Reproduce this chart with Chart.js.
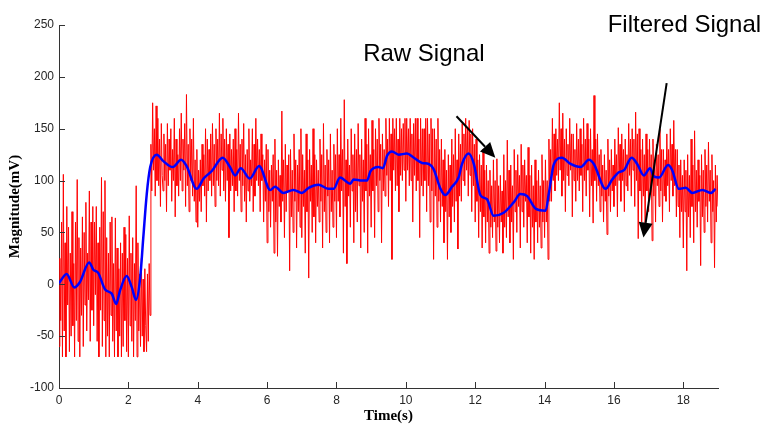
<!DOCTYPE html>
<html>
<head>
<meta charset="utf-8">
<title>Raw vs filtered signal</title>
<script src="https://cdn.jsdelivr.net/npm/chart.js@4.4.1/dist/chart.umd.min.js"></script>
<style>
  html, body { margin: 0; padding: 0; background: #fff; }
  canvas { display: block; }
</style>
</head>
<body>
<canvas id="myChart" width="765" height="425"></canvas>
<script>
// raw signal, one sample every 0.025 s (two rows per second)
const rawStep = 0.025;
const rawValues = [
  -60, 25, -35, 60, -70, 106, -45, 40, -70, 75, -20, 55, -65, 30, -50, 70, -40, 20, -70, 60,
  -35, 101, -55, 45, -70, 35, -30, 65, -60, 50, -20, 79, -45, 30, -15, 90, -55, 60, -25, 75,
  -40, 60, -10, 75, -55, 40, -70, 55, -25, 103, -60, 70, -35, 100, -70, 45, -50, 30, -70, 60,
  -30, 65, -55, 20, -70, 64, -45, 35, -70, 15, -50, 40, -70, 30, -60, 55, -35, 48, -65, 25,
  -70, 66, -40, 30, -55, 45, -70, 20, -35, 95, -70, 40, -45, 10, -60, 25, -50, 5, -65, 15,
  -40, -65, 10, -55, 20, -30, 135, 90, 175, 110, 150, 85, 172, 100, 160, 95, 140, 75, 155, 105,
  90, 145, 100, 135, 70, 155, 95, 140, 110, 150, 80, 130, 100, 160, 65, 140, 95, 125, 85, 150,
  100, 165, 90, 140, 110, 155, 75, 183, 95, 135, 70, 150, 100, 140, 85, 160, 80, 120, 60, 130,
  55, 110, 80, 120, 70, 135, 95, 125, 85, 150, 60, 140, 90, 130, 100, 145, 85, 155, 95, 135,
  75, 150, 100, 140, 95, 165, 85, 145, 110, 160, 90, 140, 80, 150, 100, 135, 45, 145, 90, 130,
  95, 140, 70, 150, 90, 130, 85, 165, 100, 135, 70, 140, 95, 155, 80, 125, 60, 130, 90, 150,
  80, 120, 95, 150, 70, 135, 85, 160, 100, 140, 95, 130, 70, 145, 100, 125, 60, 120, 80, 135,
  40, 130, 70, 110, 55, 115, 80, 125, 30, 140, 60, 110, 27, 120, 75, 105, 60, 167, 80, 120,
  45, 135, 70, 115, 90, 125, 13, 130, 65, 110, 50, 145, 80, 120, 35, 115, 70, 130, 55, 150,
  45, 125, 75, 110, 30, 145, 70, 120, 6, 130, 80, 115, 50, 150, 65, 125, 40, 120, 75, 110,
  60, 140, 80, 125, 35, 155, 70, 115, 50, 130, 85, 120, 40, 145, 70, 110, 55, 135, 80, 125,
  45, 150, 80, 125, 65, 160, 90, 130, 30, 178, 75, 120, 20, 140, 85, 115, 55, 150, 90, 125,
  40, 145, 70, 130, 60, 155, 95, 125, 35, 140, 80, 120, 50, 160, 90, 135, 30, 150, 85, 125,
  55, 158, 90, 130, 45, 150, 95, 140, 70, 160, 100, 135, 40, 145, 90, 130, 85, 160, 105, 140,
  75, 160, 100, 145, 24, 160, 110, 150, 90, 160, 95, 140, 70, 160, 105, 150, 100, 155, 110, 160,
  80, 160, 110, 150, 95, 160, 100, 145, 60, 155, 105, 160, 90, 160, 100, 140, 45, 160, 95, 150,
  85, 150, 100, 160, 70, 160, 95, 145, 60, 160, 90, 150, 24, 150, 85, 140, 55, 160, 80, 130,
  60, 140, 75, 120, 40, 130, 70, 110, 24, 125, 65, 115, 50, 140, 75, 125, 60, 150, 80, 120,
  34, 145, 85, 135, 80, 155, 100, 145, 95, 160, 110, 150, 85, 158, 105, 145, 70, 150, 95, 135,
  60, 140, 80, 120, 45, 125, 70, 115, 35, 130, 65, 110, 40, 115, 60, 100, 30, 110, 55, 95,
  45, 120, 60, 100, 32, 121, 55, 95, 40, 105, 60, 90, 30, 125, 55, 100, 45, 139, 65, 110,
  40, 115, 60, 95, 24, 130, 70, 110, 50, 125, 75, 105, 35, 135, 70, 115, 55, 120, 80, 105,
  40, 132, 65, 105, 30, 115, 55, 95, 24, 120, 60, 100, 40, 110, 55, 95, 35, 125, 60, 100,
  45, 120, 60, 100, 24, 140, 80, 130, 80, 160, 100, 145, 90, 150, 105, 140, 100, 175, 110, 150,
  85, 165, 100, 140, 70, 150, 105, 135, 95, 160, 110, 145, 65, 145, 100, 130, 80, 155, 100, 140,
  90, 150, 105, 135, 70, 160, 100, 140, 85, 155, 110, 140, 65, 150, 95, 130, 59, 182, 100, 140,
  80, 145, 95, 125, 70, 130, 85, 115, 60, 125, 80, 110, 48, 140, 85, 120, 70, 130, 90, 115,
  75, 140, 95, 125, 65, 151, 100, 135, 80, 145, 100, 130, 70, 140, 95, 125, 90, 155, 105, 140,
  85, 150, 110, 140, 75, 166, 100, 145, 44, 150, 90, 130, 60, 140, 85, 125, 55, 145, 90, 130,
  70, 140, 90, 125, 42, 140, 85, 120, 60, 135, 95, 125, 75, 150, 90, 130, 60, 130, 85, 120,
  80, 145, 95, 130, 70, 150, 100, 135, 85, 158, 95, 130, 65, 130, 75, 115, 45, 120, 70, 105,
  35, 120, 70, 110, 13, 125, 65, 105, 45, 140, 75, 115, 40, 148, 70, 110, 55, 120, 80, 105,
  18, 125, 65, 110, 50, 130, 75, 115, 60, 137, 80, 110, 40, 125, 70, 100, 16, 115, 60, 105,
  75
];

// filtered signal, read at the turning points of the blue curve
const filteredTime = [
  0, 0.22, 0.44, 0.6, 0.87, 0.99, 1.13, 1.33, 1.52, 1.65, 1.76, 1.95, 2.1, 2.22, 2.34, 2.43, 2.53, 2.63, 2.82,
  3, 3.28, 3.52, 3.68, 3.97, 4.17, 4.4, 4.72, 4.93, 5.08, 5.24, 5.5, 5.77, 6.09, 6.23, 6.47, 6.76,
  7, 7.2, 7.48, 7.77, 7.92, 8.1, 8.4, 8.49, 8.74, 8.88, 8.98, 9.21, 9.34, 9.46, 9.6, 9.79,
  10.03, 10.23, 10.47, 10.66, 10.8, 11, 11.14, 11.33, 11.52, 11.62, 11.81, 11.96, 12.15, 12.34, 12.53, 12.82,
  13.11, 13.3, 13.5, 13.74, 14.03, 14.12, 14.27, 14.5, 14.75, 15.04, 15.28, 15.42, 15.76, 15.95,
  16.14, 16.29, 16.51, 16.67, 16.86, 17.04, 17.15, 17.3, 17.56, 17.68, 17.87, 18.07, 18.26, 18.55, 18.79, 18.93
];
const filteredValue = [
  1, 10, -3, 2, 21, 14, 11, -5, -9, -19, -6, 8, -3, -15, 6, 45, 87, 113, 125,
  119, 113, 120, 114, 92, 102, 109, 122, 113, 105, 112, 102, 114, 91, 94, 88, 91,
  88, 93, 96, 92, 92, 103, 97, 101, 100, 100, 109, 113, 112, 124, 128, 125,
  126, 122, 117, 116, 111, 92, 86, 94, 103, 116, 126, 116, 86, 82, 66, 69,
  79, 87, 85, 73, 71, 87, 116, 122, 116, 113, 120, 116, 92, 101,
  108, 110, 122, 116, 105, 112, 104, 103, 115, 110, 92, 93, 88, 91, 88, 92
];

const xTicks = [0, 2, 4, 6, 8, 10, 12, 14, 16, 18];
const yTicks = [-100, -50, 0, 50, 100, 150, 200, 250];

// callouts in data units (time, mV)
const labelText = ['Raw Signal', 'Filtered Signal'];
const labelAt = [[8.77, 215], [15.82, 243]];
const arrowFrom = [[11.46, 162], [17.52, 194]];
const arrowTo = [[12.58, 122], [16.85, 45]];

const axisColor = '#333';
const tickColor = '#262626';

const rawPoints = rawValues.map((v, i) => ({ x: +(i * rawStep).toFixed(3), y: v }));
const filteredPoints = filteredTime.map((t, i) => ({ x: t, y: filteredValue[i] }));

const callouts = {
  id: 'callouts',
  afterDraw(chart) {
    const c = chart.ctx;
    const { x, y } = chart.scales;
    const area = chart.chartArea;
    c.save();

    // matlab style ticks, pointing into the plot
    c.strokeStyle = axisColor;
    c.lineWidth = 1;
    c.beginPath();
    x.ticks.forEach(t => {
      const px = Math.round(x.getPixelForValue(t.value)) + 0.5;
      c.moveTo(px, area.bottom);
      c.lineTo(px, area.bottom - 6);
    });
    y.ticks.forEach(t => {
      const py = Math.round(y.getPixelForValue(t.value)) + 0.5;
      c.moveTo(area.left, py);
      c.lineTo(area.left + 6, py);
    });
    c.stroke();

    // text
    c.fillStyle = '#000';
    c.font = '24px "Liberation Sans", Arial, sans-serif';
    c.textBaseline = 'alphabetic';
    c.textAlign = 'left';
    labelText.forEach((txt, i) => {
      c.fillText(txt, x.getPixelForValue(labelAt[i][0]), y.getPixelForValue(labelAt[i][1]));
    });

    // arrows
    c.strokeStyle = '#000';
    c.lineWidth = 2;
    arrowFrom.forEach((from, i) => {
      const x0 = x.getPixelForValue(from[0]), y0 = y.getPixelForValue(from[1]);
      const x1 = x.getPixelForValue(arrowTo[i][0]), y1 = y.getPixelForValue(arrowTo[i][1]);
      const ang = Math.atan2(y1 - y0, x1 - x0);
      const len = 15, half = 7;
      const bx = x1 - len * Math.cos(ang), by = y1 - len * Math.sin(ang);
      c.beginPath();
      c.moveTo(x0, y0);
      c.lineTo(bx, by);
      c.stroke();
      c.beginPath();
      c.moveTo(x1, y1);
      c.lineTo(bx + half * Math.sin(ang), by - half * Math.cos(ang));
      c.lineTo(bx - half * Math.sin(ang), by + half * Math.cos(ang));
      c.closePath();
      c.fill();
    });
    c.restore();
  }
};

Chart.defaults.font.family = '"Liberation Sans", Arial, sans-serif';
Chart.defaults.color = tickColor;

var ctx = document.getElementById('myChart').getContext('2d');
var myChart = new Chart(ctx, {
  type: 'line',
  data: {
    datasets: [{
      label: 'Filtered Signal',
      data: filteredPoints,
      borderColor: '#0000ff',
      borderWidth: 2.5,
      pointRadius: 0,
      cubicInterpolationMode: 'monotone',
      order: 0
    }, {
      label: 'Raw Signal',
      data: rawPoints,
      borderColor: '#ff0000',
      borderWidth: 1,
      pointRadius: 0,
      tension: 0,
      order: 1
    }]
  },
  options: {
    responsive: false,
    animation: false,
    devicePixelRatio: 1,
    layout: { padding: { top: 25, right: 47, left: 0, bottom: 0 } },
    plugins: {
      legend: { display: false },
      tooltip: { enabled: false }
    },
    scales: {
      x: {
        type: 'linear',
        min: 0,
        max: 19,
        afterBuildTicks: s => { s.ticks = xTicks.map(v => ({ value: v })); },
        afterFit: s => { s.height = 37; },
        grid: { display: false, drawTicks: false },
        border: { display: true, color: axisColor, width: 1 },
        ticks: { padding: 5, font: { size: 12 }, color: tickColor, maxRotation: 0 },
        title: {
          display: true,
          text: 'Time(s)',
          font: { family: '"Liberation Serif", "Times New Roman", serif', size: 15, weight: 'bold' },
          color: '#000',
          padding: { top: 0, bottom: 0 }
        }
      },
      y: {
        min: -100,
        max: 250,
        afterBuildTicks: s => { s.ticks = yTicks.map(v => ({ value: v })); },
        afterFit: s => { s.width = 59; },
        grid: { display: false, drawTicks: false },
        border: { display: true, color: axisColor, width: 1 },
        ticks: { padding: 5, font: { size: 12 }, color: tickColor },
        title: {
          display: true,
          text: 'Magnitude(mV)',
          font: { family: '"Liberation Serif", "Times New Roman", serif', size: 15, weight: 'bold' },
          color: '#000',
          padding: { top: 6, bottom: 0 }
        }
      }
    }
  },
  plugins: [callouts]
});
</script>
</body>
</html>
